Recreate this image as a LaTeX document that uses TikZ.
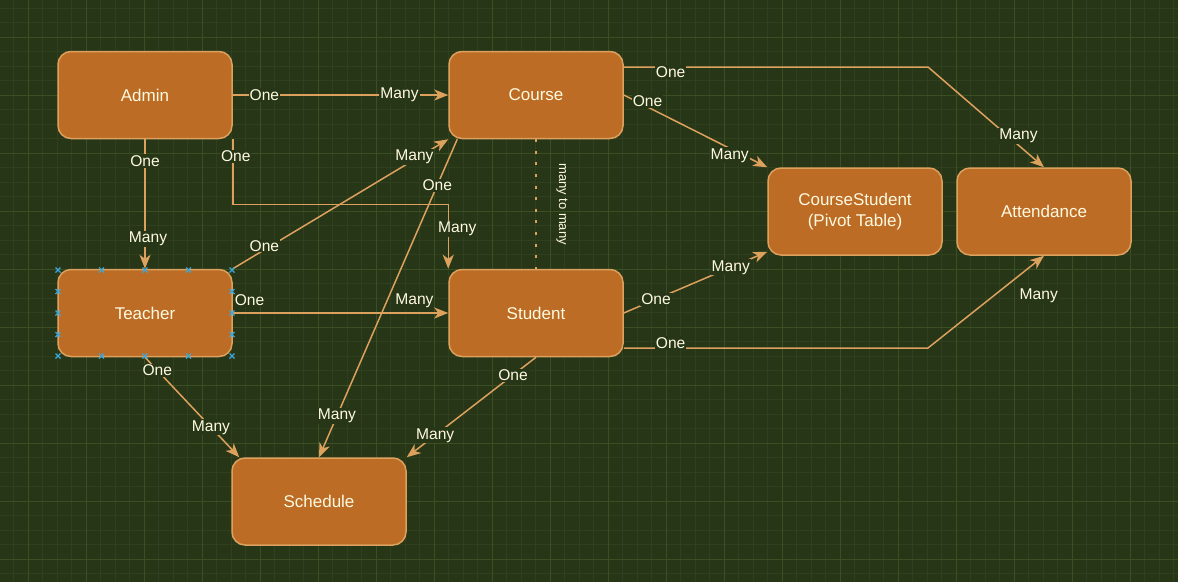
\documentclass[tikz,border=0pt]{standalone}
\usepackage{fontspec}
\setmainfont{Liberation Sans}
\usetikzlibrary{arrows.meta}
\definecolor{bgc}{HTML}{283618}
\definecolor{gridmin}{HTML}{30401F}
\definecolor{gridmaj}{HTML}{3A5023}
\definecolor{boxfill}{HTML}{BC6C25}
\definecolor{boxline}{HTML}{DDA15E}
\definecolor{txtc}{HTML}{FEFAE0}
\definecolor{handle}{HTML}{3BA7DB}

\begin{document}
\begin{tikzpicture}[x=1pt,y=-1pt,
    entity/.style={draw=boxline,fill=boxfill,line width=1.5pt,rounded corners=13pt,
        minimum width=174pt,minimum height=87pt,inner sep=0pt,align=center,
        text=txtc,font=\fontsize{17}{21.5}\selectfont},
    rel/.style={draw=boxline,line width=1.5pt,-{Stealth[length=14pt,width=11pt,inset=4pt]}},
    lbl/.style={fill=bgc,text=txtc,inner sep=1pt,font=\fontsize{15.6}{18}\selectfont}]

        \useasboundingbox (0,0) rectangle (1178,582);
        \fill[bgc] (0,0) rectangle (1178,582);
        \foreach \gx in {13.8,28.3,...,1178}
            { \draw[gridmin,line width=1pt] (\gx,0) -- (\gx,582); }
        \foreach \gy in {8.3,22.8,...,582}
            { \draw[gridmin,line width=1pt] (0,\gy) -- (1178,\gy); }
        \foreach \gx in {28.3,86.3,...,1178}
            { \draw[gridmaj,line width=1pt] (\gx,0) -- (\gx,582); }
        \foreach \gy in {37.3,95.3,...,582}
            { \draw[gridmaj,line width=1pt] (0,\gy) -- (1178,\gy); }

        \foreach \px/\py/\nm/\txt in {145/95/Admin/Admin,536/95/Course/Course,
            145/313/Teacher/Teacher,536/313/Student/Student,319/501.5/Schedule/Schedule,
            855/211.5/CourseStudent/{CourseStudent\\(Pivot Table)},1044/211.5/Attendance/Attendance}
            { \node[entity] (\nm) at (\px,\py) {\txt}; }

        \coordinate (cbend) at (928,67);
        \coordinate (sbend) at (928,348);

        \draw[rel] (Admin.east) -- (Course.west)
            node[lbl,pos=.147]{One} node[lbl,pos=.774]{Many};
        \draw[rel] (Admin.south) -- (Teacher.north)
            node[lbl,pos=.168]{One} node[lbl,pos=.771,xshift=3pt]{Many};
        \draw[rel] (Admin.south east) -- ++(0,65) node[lbl,pos=.26,xshift=3pt]{One}
            -| (Student.north west) node[lbl,pos=.69,xshift=9pt]{Many};
        \draw[rel] (Teacher.north east) -- (Course.south west)
            node[lbl,pos=.147,yshift=4pt]{One} node[lbl,pos=.843,yshift=3pt]{Many};
        \draw[rel] (Teacher.east) -- (Student.west)
            node[lbl,pos=.078,yshift=13pt]{One} node[lbl,pos=.843,yshift=12pt]{Many};
        \draw[rel] (Teacher.south) -- ([xshift=8pt]Schedule.north west)
            node[lbl,pos=.13]{One} node[lbl,pos=.7]{Many};
        \draw[rel] ([xshift=9pt]Course.south west) -- (Schedule.north)
            node[lbl,pos=.144]{One} node[lbl,pos=.87]{Many};
        \draw[rel] (Student.south) -- (Schedule.north east)
            node[lbl,pos=.178]{One} node[lbl,pos=.78]{Many};
        \draw[boxline,line width=2.6pt,dash pattern=on 3pt off 8.6pt] (Course.south) -- (Student.north)
            node[midway,xshift=26pt,rotate=-90,text=txtc,font=\fontsize{13}{15}\selectfont]{many to many};
        \draw[rel] (Course.east) -- (CourseStudent.north west)
            node[lbl,pos=.166,yshift=6pt]{One} node[lbl,pos=.738,yshift=-7pt]{Many};
        \draw[rel] ([yshift=28pt]Course.east) -- (cbend) node[lbl,pos=.154,yshift=-5pt]{One}
            -- (Attendance.north) node[lbl,pos=.78,yshift=9pt]{Many};
        \draw[rel] (Student.east) -- ([yshift=4pt]CourseStudent.south west)
            node[lbl,pos=.225]{One} node[lbl,pos=.746]{Many};
        \draw[rel] ([yshift=-35pt]Student.east) -- (sbend) node[lbl,pos=.154,yshift=5pt]{One}
            -- (Attendance.south) node[lbl,pos=.8,xshift=18pt,yshift=-22pt]{Many};

        \foreach \hx in {58,101.5,145,188.5,232}
            \foreach \hy in {270,356}
                { \draw[handle,line width=1.2pt] (\hx-2.5,\hy-2.5) -- (\hx+2.5,\hy+2.5)
                    (\hx-2.5,\hy+2.5) -- (\hx+2.5,\hy-2.5); }
        \foreach \hx in {58,232}
            \foreach \hy in {291.5,313,334.5}
                { \draw[handle,line width=1.2pt] (\hx-2.5,\hy-2.5) -- (\hx+2.5,\hy+2.5)
                    (\hx-2.5,\hy+2.5) -- (\hx+2.5,\hy-2.5); }
    \end{tikzpicture}
\end{document}
